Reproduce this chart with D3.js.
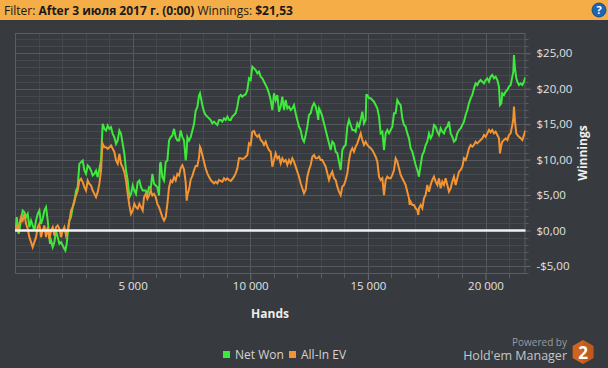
<!DOCTYPE html>
<html><head><meta charset="utf-8">
<script src="https://cdn.jsdelivr.net/npm/d3@7/dist/d3.min.js"></script>
<style>
body{margin:0;background:#373a3e;}
svg{display:block;font-family:"Open Sans","Noto Sans",sans-serif;}
</style>
</head><body><svg id="c" width="608" height="368"></svg>
<script>
const netWonHands = [0,44,72,157,256,327,398,469,540,610,681,752,823,894,965,1036,1106,1177,1248,1319,1390,1432,1489,1532,1602,1673,1744,1815,1886,1957,2028,2098,2141,2198,2240,2311,2382,2453,2523,2594,2665,2736,2807,2878,2949,3019,3090,3161,3232,3303,3374,3444,3515,3586,3657,3700,3728,3799,3870,3940,4011,4082,4153,4224,4295,4366,4436,4507,4578,4649,4720,4791,4862,4932,5003,5074,5145,5216,5286,5357,5428,5485,5556,5627,5698,5768,5839,5910,5981,6052,6123,6165,6194,6264,6335,6406,6477,6548,6619,6690,6760,6831,6902,6973,7044,7115,7185,7256,7299,7327,7398,7469,7540,7611,7681,7752,7823,7864,7963,8034,8105,8176,8247,8318,8389,8459,8530,8601,8672,8743,8814,8885,8955,9026,9097,9168,9239,9310,9380,9451,9522,9593,9664,9735,9806,9876,9947,10018,10089,10160,10231,10302,10372,10443,10514,10585,10655,10726,10797,10868,10938,11009,11080,11151,11222,11293,11364,11434,11505,11576,11647,11718,11789,11859,11930,12001,12072,12143,12214,12285,12355,12426,12497,12568,12639,12710,12781,12851,12894,12922,12993,13064,13135,13206,13276,13347,13418,13489,13560,13631,13702,13772,13843,13914,13985,14056,14127,14198,14268,14339,14410,14481,14552,14623,14694,14764,14835,14906,14934,14977,15048,15119,15189,15260,15331,15402,15473,15544,15615,15685,15756,15827,15898,15969,16040,16110,16180,16251,16322,16393,16463,16534,16605,16676,16747,16818,16889,16959,17030,17101,17172,17200,17243,17314,17384,17455,17526,17597,17668,17739,17810,17880,17951,18022,18093,18164,18235,18306,18376,18447,18518,18589,18660,18731,18801,18872,18943,19014,19085,19156,19227,19297,19368,19439,19510,19581,19652,19723,19793,19864,19935,20006,20077,20148,20218,20289,20360,20431,20502,20573,20615,20672,20714,20785,20856,20927,20998,21069,21140,21182,21210,21253,21310,21352,21423,21494,21565,21635,21678,21710];
const netWonValues = [0,0.7,1.88,-0.47,1.41,2.82,2.59,1.88,2.35,0.47,1.41,0.71,0,1.41,2.35,2.82,0.94,1.65,2.82,3.29,1.41,0,-1.88,-1.41,-2.35,-1.65,0,-0.94,-1.88,-1.65,-2.12,-2.59,-2.82,-1.88,-0.47,1.41,1.88,3.29,4.0,5.64,6.11,9.4,9.64,9.87,8.46,7.99,9.17,8.93,8.46,7.76,7.99,8.46,7.52,8.7,9.87,13.16,15.04,14.34,14.1,14.81,14.34,14.57,13.63,13.16,12.22,12.69,14.1,13.63,12.22,10.81,8.46,7.05,4.7,5.17,6.35,5.64,5.17,6.82,7.05,6.11,5.64,5.64,5.64,5.17,6.11,5.88,7.99,6.58,6.35,6.11,4.94,9.4,9.64,7.52,7.05,9.64,9.87,12.69,13.16,13.4,14.34,13.16,12.69,12.69,14.1,13.16,12.69,9.87,11.28,13.16,12.69,13.16,14.1,15.04,16.93,17.4,19.04,19.35,17.7,16.76,16.29,16.06,15.82,15.59,15.11,15.35,15.11,14.88,15.59,15.59,15.35,15.82,15.59,16.06,15.59,15.59,16.06,16.29,16.53,17.47,18.87,19.11,18.87,19.11,19.2,19.82,21.46,21.23,23.1,22.87,22.64,22.17,22.4,21.7,21.46,20.99,20.52,20.05,19.35,18.4,16.99,19.35,18.4,19.11,16.76,17.47,18.88,17.0,18.4,17.23,17.47,17.0,17.23,17.7,16.53,15.59,14.65,14.17,13.0,12.53,13.47,14.65,16.29,16.53,17.47,17.94,17.47,16.53,15.59,17.23,16.76,16.06,15.11,14.17,13.23,12.29,11.35,12.53,12.29,11.12,10.88,9.71,8.53,11.35,11.82,12.06,14.65,15.59,14.88,14.17,14.17,13.94,15.11,14.65,15.59,16.76,15.11,15.59,19.11,19.11,18.64,18.64,18.4,18.17,17.7,17.23,16.06,13.7,13.94,11.35,13.7,14.17,13.7,14.17,14.64,16.53,16.53,18.4,17.94,17.7,15.82,14.88,14.65,13.7,13.0,11.59,11.12,10.18,9.24,8.53,7.59,8.3,9.24,10.65,11.12,12.06,12.53,13.7,13.0,13.47,14.88,14.65,13.94,13.47,14.41,13.94,13.7,14.41,14.65,15.35,13.7,13.23,12.53,12.76,13.7,14.17,14.41,14.88,15.35,16.29,17.0,17.94,18.64,19.11,20.05,20.76,20.52,20.99,21.23,20.99,20.76,21.23,21.46,20.99,21.7,21.93,21.46,21.7,21.23,20.29,17.7,17.94,19.35,19.11,19.58,19.82,20.29,20.52,21.7,22.4,24.76,22.87,21.46,20.99,20.52,20.76,20.52,20.99,21.46,21.53];
const allInHands = [0,44,115,185,256,327,398,469,540,610,681,752,823,894,965,1036,1106,1177,1248,1319,1390,1461,1532,1602,1673,1744,1815,1886,1957,2028,2098,2169,2240,2283,2339,2382,2453,2523,2594,2665,2736,2807,2878,2949,3019,3090,3161,3232,3303,3374,3444,3515,3586,3657,3700,3728,3799,3870,3940,4011,4082,4153,4224,4295,4366,4436,4507,4578,4649,4720,4791,4862,4932,5003,5074,5145,5216,5286,5357,5428,5485,5556,5627,5698,5768,5839,5910,5981,6052,6123,6194,6264,6335,6406,6477,6548,6619,6690,6760,6831,6902,6973,7044,7115,7185,7256,7299,7327,7398,7469,7540,7611,7681,7752,7823,7864,7893,7963,8034,8105,8176,8247,8318,8389,8459,8530,8601,8672,8743,8814,8885,8955,9026,9097,9168,9239,9310,9380,9451,9522,9593,9664,9735,9806,9876,9947,10018,10089,10160,10231,10302,10372,10443,10514,10585,10655,10726,10797,10868,10938,11009,11080,11151,11222,11293,11364,11434,11505,11576,11647,11718,11789,11859,11930,12001,12072,12143,12214,12285,12355,12426,12497,12568,12639,12710,12781,12851,12922,12993,13064,13135,13206,13276,13347,13418,13489,13560,13631,13702,13772,13843,13914,13985,14056,14127,14198,14268,14339,14410,14481,14552,14623,14694,14764,14835,14906,14977,15048,15119,15189,15260,15331,15402,15473,15544,15615,15685,15756,15827,15898,15969,16040,16110,16180,16251,16322,16393,16463,16534,16605,16676,16747,16775,16818,16889,16959,17030,17101,17144,17172,17243,17314,17384,17455,17526,17597,17668,17739,17810,17880,17951,18022,18093,18164,18235,18306,18376,18447,18518,18589,18660,18731,18801,18872,18943,19014,19085,19156,19227,19297,19368,19439,19510,19581,19652,19723,19793,19864,19935,20006,20077,20148,20218,20289,20360,20431,20502,20573,20615,20672,20714,20785,20856,20927,20998,21069,21140,21182,21210,21253,21310,21352,21423,21494,21565,21635,21678,21710];
const allInValues = [0,0.47,0,0.94,1.88,1.41,2.35,0.94,0.24,-0.94,-1.65,-2.35,-1.65,-0.94,0.47,0.94,-0.94,0,0.71,-0.94,0.47,-1.18,0,0.47,-0.71,0.47,0.71,0.24,-0.94,0,0.47,-0.71,0,0.94,1.88,2.82,3.29,4.23,4.94,5.64,7.05,7.29,6.82,6.11,5.64,7.05,6.58,6.35,5.64,5.17,4.7,5.41,6.58,8.46,11.28,12.22,11.75,11.75,11.52,11.75,11.99,11.52,11.05,9.87,9.4,10.81,9.4,8.93,8.23,7.05,5.17,3.53,2.35,2.82,3.76,3.29,3.06,3.76,3.29,2.82,4.7,5.17,4.47,4.94,5.64,4.94,5.17,4.7,3.76,3.29,2.59,1.88,1.41,1.88,3.76,6.11,7.05,6.82,7.52,7.05,7.99,7.76,8.8,9.2,8.6,6.8,4.2,5.0,5.8,7.2,7.7,8.5,9.1,9.1,10.3,11.8,11.59,10.65,9.69,8.77,8.06,7.59,7.12,6.88,6.65,6.88,6.65,7.12,6.98,6.88,7.36,7.12,7.36,7.12,6.98,7.26,7.59,8.06,8.77,10.18,10.18,10.08,10.18,10.41,10.65,12.29,12.06,13.94,14.03,13.47,13.23,13.47,12.76,12.53,12.06,12.53,11.82,11.35,11.12,9.0,9.94,10.88,10.18,10.41,9.47,10.18,9.71,9.94,9.24,9.94,9.47,10.18,9.71,9.0,8.3,7.59,6.65,5.95,5.24,5.71,7.59,8.53,9.24,10.41,10.65,10.18,10.18,10.41,9.94,9.94,9.47,9.0,8.06,7.12,7.83,8.3,7.36,7.12,6.18,5.48,5.0,6.18,6.42,7.12,8.06,9.94,11.12,11.59,11.12,11.82,12.29,13.0,13.7,12.76,12.06,12.53,12.06,11.82,11.59,11.35,10.88,10.41,9.71,7.59,7.12,7.36,5.0,7.12,7.59,7.36,7.36,7.83,8.53,10.18,9.71,8.77,7.83,7.36,6.89,6.42,5.48,4.54,3.6,4.07,3.6,3.6,3.13,2.89,2.19,3.13,3.6,3.13,4.54,5.0,6.42,5.48,6.42,7.12,7.59,6.89,6.42,7.36,5.95,6.89,6.42,7.36,6.42,5.48,5.95,6.89,7.59,6.42,7.36,8.3,8.53,9.0,10.18,9.94,10.65,11.59,12.06,11.82,12.06,12.53,12.29,12.53,12.76,13.0,13.47,13.23,13.7,14.17,13.84,14.17,13.7,13.94,13.47,13.0,10.88,12.06,12.53,12.76,13.0,12.76,13.47,13.7,14.88,15.82,17.47,15.35,13.7,13.47,13.23,13.0,12.76,13.47,13.94,14.1];
const yTickValues = [-5,0,5,10,15,20,25];
const xTickValues = [5000,10000,15000,20000];
const seriesNames = ["Net Won","All-In EV"];
const seriesColors = ["#3ee83c","#f39433"];
const headerParts = [["Filter: ",false],["After 3 июля 2017 г. (0:00)",true],[" Winnings: ",false],["$21,53",true]];

const svg = d3.select("#c");
const W = 608, H = 368;
const plot = {l:15, r:525.5, t:33, b:274};
const x = d3.scaleLinear().domain([0,21700]).range([plot.l, plot.r]);
const y = d3.scaleLinear().domain([-6.14,27.86]).range([plot.b, plot.t]);

svg.append("rect").attr("width",W).attr("height",H).attr("fill","#373a3e");
// header
svg.append("rect").attr("width",W).attr("height",20).attr("fill","#f4ad47");
const ht = svg.append("text").attr("x",4).attr("y",14.5).attr("font-size",12).attr("fill","#1a1a1a");
headerParts.forEach(([t,b])=>ht.append("tspan").text(t).attr("font-weight",b?"bold":"normal"));
svg.append("circle").attr("cx",599).attr("cy",10).attr("r",7).attr("fill","#1e64b4").attr("stroke","#0d3f7a").attr("stroke-width",0.8);
svg.append("text").attr("x",599).attr("y",14).attr("text-anchor","middle").attr("font-size",11).attr("font-weight","bold").attr("fill","#fff").text("?");

// grid
const g = svg.append("g");
const minorY = d3.range(-6, 28, 1).filter(v=>v%5!==0);
const majorY = yTickValues;
const minorX = d3.range(1000, 21701, 1000).filter(v=>v%5000!==0);
const majorX = xTickValues;
g.selectAll(".my").data(minorY).join("line").attr("x1",plot.l).attr("x2",plot.r)
  .attr("y1",d=>Math.round(y(d))+0.5).attr("y2",d=>Math.round(y(d))+0.5).attr("stroke","#45484c");
g.selectAll(".mx").data(minorX).join("line").attr("y1",plot.t).attr("y2",plot.b)
  .attr("x1",d=>Math.round(x(d))+0.5).attr("x2",d=>Math.round(x(d))+0.5).attr("stroke","#45484c");
g.selectAll(".My").data(majorY).join("line").attr("x1",plot.l).attr("x2",plot.r)
  .attr("y1",d=>Math.round(y(d))+0.5).attr("y2",d=>Math.round(y(d))+0.5).attr("stroke","#55585c");
g.selectAll(".Mx").data(majorX).join("line").attr("y1",plot.t).attr("y2",plot.b)
  .attr("x1",d=>Math.round(x(d))+0.5).attr("x2",d=>Math.round(x(d))+0.5).attr("stroke","#55585c");
g.append("rect").attr("x",plot.l+0.5).attr("y",plot.t+0.5).attr("width",plot.r-plot.l-1).attr("height",plot.b-plot.t-1)
  .attr("fill","none").attr("stroke","#5a5d61");

// axes ticks
const yAxis = d3.axisRight(y).tickValues(majorY).tickSize(5).tickPadding(6)
  .tickFormat(d=> (d<0?"-$":"$") + d3.format(".2f")(Math.abs(d)).replace(".",","));
const ya = svg.append("g").attr("transform",`translate(${plot.r},0)`).call(yAxis);
ya.select(".domain").remove();
ya.selectAll("line").attr("stroke","#6a6d71");
ya.selectAll("text").attr("fill","#e2e2e2").attr("font-size",11.5).attr("font-family","Open Sans");
svg.append("g").selectAll("line").data(minorY).join("line").attr("x1",plot.r).attr("x2",plot.r+3)
  .attr("y1",d=>Math.round(y(d))+0.5).attr("y2",d=>Math.round(y(d))+0.5).attr("stroke","#5a5d61");

const xAxis = d3.axisBottom(x).tickValues(majorX).tickSize(6).tickPadding(2)
  .tickFormat(d=>d3.format(",")(d).replace(/,/g," "));
const xa = svg.append("g").attr("transform",`translate(0,${plot.b})`).call(xAxis);
xa.select(".domain").remove();
xa.selectAll("line").attr("stroke","#6a6d71");
xa.selectAll("text").attr("fill","#e2e2e2").attr("font-size",11.5).attr("font-family","Open Sans");
svg.append("g").selectAll("line").data(minorX).join("line").attr("y1",plot.b).attr("y2",plot.b+4)
  .attr("x1",d=>Math.round(x(d))+0.5).attr("x2",d=>Math.round(x(d))+0.5).attr("stroke","#5a5d61");

svg.append("text").attr("x",270).attr("y",318).attr("text-anchor","middle").attr("font-size",12)
  .attr("font-weight","bold").attr("fill","#eeeeee").text("Hands");
svg.append("text").attr("transform","translate(587,153) rotate(-90)").attr("text-anchor","middle")
  .attr("font-size",12).attr("font-weight","bold").attr("fill","#eeeeee").text("Winnings");

// lines
const clipId = "pc";
svg.append("clipPath").attr("id",clipId).append("rect").attr("x",plot.l).attr("y",plot.t).attr("width",plot.r-plot.l).attr("height",plot.b-plot.t);
const line = d3.line().x(d=>x(d[0])).y(d=>y(d[1]));
const series = [d3.zip(netWonHands, netWonValues), d3.zip(allInHands, allInValues)];
const lg = svg.append("g").attr("clip-path",`url(#${clipId})`);
series.forEach((s,i)=>{
  lg.append("path").datum(s).attr("d",line).attr("fill","none").attr("stroke",seriesColors[i])
    .attr("stroke-width",2).attr("stroke-linejoin","miter");
});
// zero line
svg.append("line").attr("x1",plot.l).attr("x2",plot.r).attr("y1",y(0)).attr("y2",y(0))
  .attr("stroke","#f2f2f2").attr("stroke-width",2.4);

// legend
const leg = svg.append("g");
const legX = [223, 289];
seriesNames.forEach((n,i)=>{
  leg.append("rect").attr("x",legX[i]).attr("y",351).attr("width",7).attr("height",7).attr("fill",seriesColors[i]);
  leg.append("text").attr("x",legX[i]+12).attr("y",359).attr("font-size",12).attr("fill","#d4d4d4").text(n);
});

// powered by
svg.append("text").attr("x",567).attr("y",345.5).attr("text-anchor","end").attr("font-size",10).attr("fill","#9a9ca0").text("Powered by");
svg.append("text").attr("x",567).attr("y",360).attr("text-anchor","end").attr("font-size",12.5).attr("fill","#c4c6c8").text("Hold'em Manager");
const hex = d3.range(6).map(k=>{const a=Math.PI/3*k - Math.PI/2; return [583+12*Math.cos(a), 352+12*Math.sin(a)];});
svg.append("polygon").attr("points",hex.map(p=>p.join(",")).join(" ")).attr("fill","#d0641e");
svg.append("polygon").attr("points",[hex[0],hex[1],hex[2],hex[3],[583,352]].map(p=>p.join(",")).join(" ")).attr("fill","#b8521a").attr("opacity",0.6);
svg.append("text").attr("x",583).attr("y",358.5).attr("text-anchor","middle").attr("font-size",17).attr("font-weight","bold").attr("fill","#fff").text("2");
</script></body></html>
